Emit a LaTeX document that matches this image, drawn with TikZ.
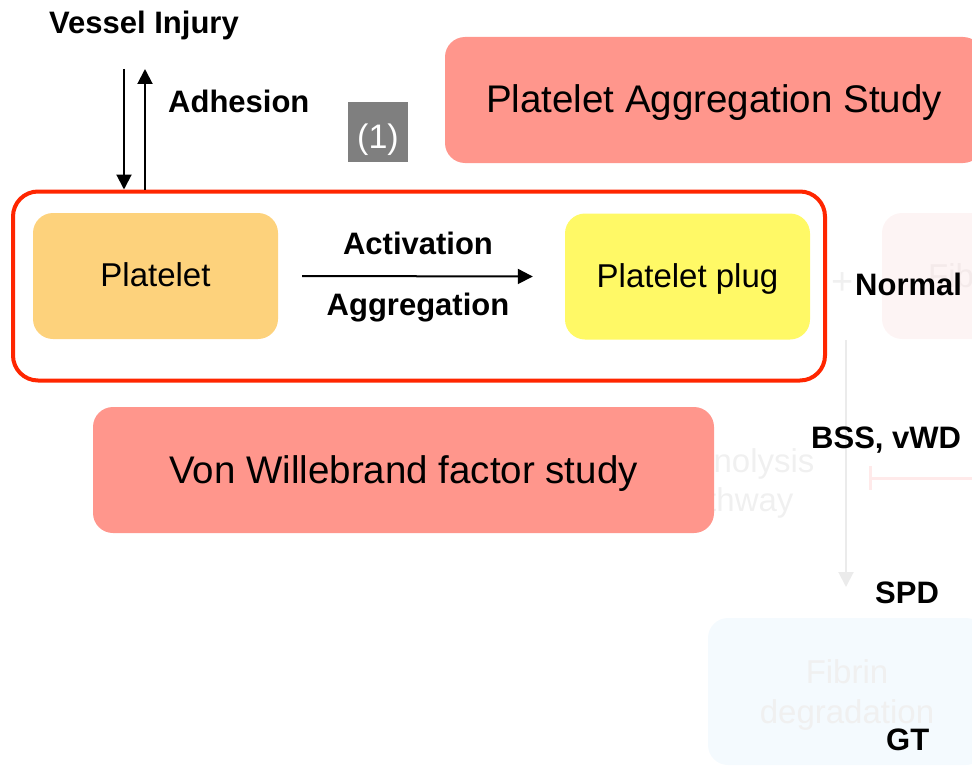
\documentclass[tikz,border=0pt]{standalone}
\usepackage{fontspec}
\setmainfont{Liberation Sans}
\usetikzlibrary{arrows.meta}
\definecolor{salmon}{HTML}{FF968C}
\definecolor{plateletfill}{HTML}{FDD27C}
\definecolor{plugfill}{HTML}{FFF966}
\definecolor{framered}{HTML}{FF2600}
\definecolor{tagfill}{HTML}{7F7F7F}
\definecolor{faintpink}{HTML}{FDF4F4}
\definecolor{faintblue}{HTML}{F4FAFE}
\definecolor{fainttext}{HTML}{F0F0F0}
\definecolor{faintpinktext}{HTML}{F4EAEA}
\definecolor{faintline}{HTML}{EBEBEB}
\definecolor{faintred}{HTML}{FFEAEA}
\begin{document}
\begin{tikzpicture}[x=1pt,y=-1pt,
  box/.style={rounded corners=20pt, inner sep=0pt, text depth=0pt},
  bigtxt/.style={font=\fontsize{38.5}{46}\selectfont},
  midtxt/.style={font=\fontsize{33}{40}\selectfont},
  lbl/.style={font=\fontsize{31}{37}\selectfont\bfseries, anchor=base, inner sep=0pt},
  faint/.style={font=\fontsize{33}{40}\selectfont, anchor=base, inner sep=0pt, text=fainttext},
  arr/.style={line width=2pt, -{Triangle[width=15pt,length=15pt]}},
  faintarr/.style={line width=2pt, faintline, -{Triangle[width=15pt,length=15pt]}},
]
\useasboundingbox (0,0) rectangle (972,768);

% ---- faint background elements ----
\node[box, fill=faintpink, minimum width=300pt, minimum height=126pt] (fibbox) at (1032,276) {};
\node[faint, anchor=base west, text=faintpinktext] (fibtxt) at (928,287) {Fib};
\node[faint, font=\fontsize{38}{44}\selectfont] (plus) at (843,294) {+};
\coordinate (vtop) at (846,340);
\coordinate (vbot) at (846,587);
\draw[faintarr] (vtop) -- (vbot);
\coordinate (tbar1) at (870,466);
\coordinate (tbar2) at (870,490);
\coordinate (tbarm) at (870,478);
\coordinate (tbarr) at (972,478);
\draw[faintred, line width=3pt] (tbar1) -- (tbar2);
\draw[faintred, line width=3pt] (tbarm) -- (tbarr);
\node[faint] (fibrino1) at (732,472) {Fibrinolysis};
\node[faint] (fibrino2) at (732,511) {pathway};
\node[box, fill=faintblue, minimum width=278pt, minimum height=147pt] (degbox) at (847,691.5) {};
\node[faint] (deg1) at (847,683) {Fibrin};
\node[faint] (deg2) at (847,723) {degradation};

% ---- main boxes ----
\node[box, fill=salmon, bigtxt, minimum width=538pt, minimum height=126pt, text height=24pt] (pas) at (714,100) {Platelet Aggregation Study};
\node[box, fill=salmon, bigtxt, minimum width=621pt, minimum height=126pt, text height=26pt] (vwf) at (403.5,470) {Von Willebrand factor study};
\node[draw=framered, line width=4pt, rounded corners=25pt, minimum width=812pt, minimum height=189pt, inner sep=0pt] (frame) at (419,286) {};
\node[box, fill=plateletfill, midtxt, minimum width=245pt, minimum height=126pt, text height=20pt] (plt) at (155.5,276) {Platelet};
\node[box, fill=plugfill, midtxt, minimum width=245pt, minimum height=126pt, text height=21pt] (plug) at (687.5,276.5) {Platelet plug};
\node[fill=tagfill, text=white, font=\fontsize{34}{40}\selectfont, inner sep=0pt, minimum width=60pt, minimum height=60pt, text height=32pt, text depth=0pt] (tag) at (378,132) {(1)};

% ---- labels ----
\node[lbl] (vi) at (144,34) {Vessel Injury};
\node[lbl, anchor=base west] (adh) at (168,112) {Adhesion};
\node[lbl] (act) at (418,254) {Activation};
\node[lbl] (agg) at (418,315) {Aggregation};
\node[lbl, anchor=base west] (normal) at (855,295) {Normal};
\node[lbl, anchor=base west] (bss) at (811,448) {BSS, vWD};
\node[lbl, anchor=base west] (spd) at (875,603) {SPD};
\node[lbl, anchor=base west] (gt) at (886,750) {GT};

% ---- connectors ----
\coordinate (dtop) at (124,69);
\coordinate (utop) at (145,69);
\draw[arr] (dtop) -- (dtop |- frame.north);
\draw[arr] (utop |- frame.north) -- (utop);
\draw[arr] ([xshift=24pt]plt.east) -- ([xshift=-32pt]plug.west);
\end{tikzpicture}
\end{document}
